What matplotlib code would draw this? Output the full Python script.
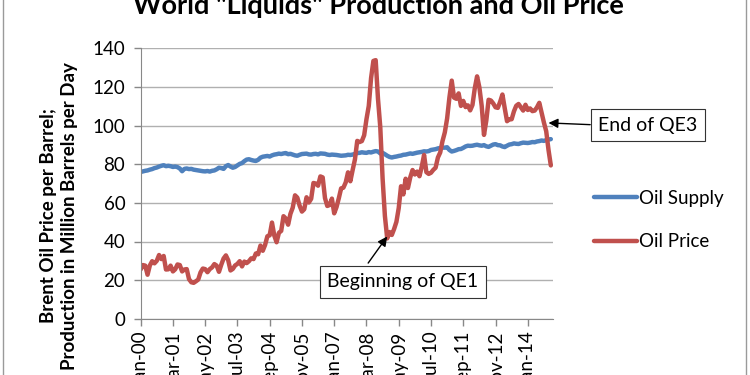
"""
    World liquids production vs Brent oil price, 2000-2014
"""
import matplotlib
matplotlib.use('Agg')
import matplotlib.pyplot as plt
import numpy as np
from matplotlib.patches import Rectangle

plt.rcParams['font.family'] = ['Lato', 'DejaVu Sans']

# monthly values, Jan-00 .. Nov-14
oil_price = [
    25.5, 27.8, 27.5, 22.8, 27.6, 29.8, 28.7, 30.0, 33.0, 30.9, 32.5, 25.5,   # 2000
    25.6, 27.5, 24.5, 25.6, 28.1, 27.8, 24.5, 25.5, 25.7, 20.5, 18.9, 18.6,   # 2001
    19.4, 20.3, 24.0, 26.0, 25.7, 24.1, 25.7, 26.6, 28.3, 27.5, 24.3, 28.0,   # 2002
    31.2, 32.8, 30.3, 25.0, 25.8, 27.6, 28.4, 29.8, 27.1, 29.6, 28.8, 29.8,   # 2003
    31.3, 30.9, 33.8, 33.4, 37.9, 35.2, 38.2, 42.7, 43.2, 49.8, 43.1, 39.6,   # 2004
    44.5, 45.5, 53.1, 51.9, 48.7, 54.3, 57.5, 63.9, 62.7, 58.5, 55.5, 56.7,   # 2005
    62.9, 60.2, 62.1, 70.3, 70.0, 68.9, 73.7, 73.2, 62.5, 58.4, 58.9, 62.2,   # 2006
    54.6, 57.8, 62.4, 67.5, 67.9, 70.6, 75.8, 71.2, 77.0, 82.5, 92.1, 91.5,   # 2007
    92.0, 95.0, 103.3, 110.2, 124.6, 133.5, 133.9, 113.9, 99.1, 72.7, 53.2, 41.6,  # 2008
    44.9, 43.4, 46.5, 50.2, 57.3, 68.6, 64.4, 72.5, 67.7, 73.2, 77.0, 74.7,   # 2009
    76.2, 73.8, 78.8, 84.8, 75.9, 75.0, 75.6, 77.1, 78.2, 83.5, 86.1, 92.0,   # 2010
    96.5, 103.7, 114.6, 123.3, 114.5, 113.9, 116.7, 110.2, 112.8, 109.6, 110.5, 107.9,  # 2011
    110.7, 119.3, 125.5, 119.8, 110.3, 95.2, 102.6, 113.4, 113.0, 111.5, 109.5, 109.2,  # 2012
    112.3, 116.1, 109.0, 102.3, 103.3, 103.3, 107.4, 110.3, 111.2, 109.5, 107.8, 110.8,  # 2013
    108.1, 108.9, 107.5, 107.8, 109.5, 111.8, 106.8, 101.6, 97.1, 87.4, 79.4,             # 2014
]

oil_supply = [
    76.0, 76.3, 76.6, 76.8, 77.2, 77.5, 78.0, 78.3, 78.8, 79.2, 79.5, 79.0,   # 2000
    79.2, 79.0, 78.6, 78.8, 78.5, 77.8, 76.4, 77.6, 77.8, 77.5, 77.6, 77.2,   # 2001
    77.0, 76.8, 76.6, 76.4, 76.3, 76.5, 76.2, 76.6, 76.8, 77.4, 78.2, 78.0,   # 2002
    77.6, 79.0, 79.6, 78.8, 78.2, 78.6, 79.4, 80.2, 80.6, 81.6, 82.4, 82.6,   # 2003
    82.2, 81.9, 81.7, 82.3, 83.4, 83.9, 84.1, 84.3, 84.0, 84.6, 85.0, 85.2,   # 2004
    85.5, 85.3, 85.6, 85.8, 85.2, 85.4, 85.0, 84.6, 84.4, 84.9, 85.3, 85.4,   # 2005
    85.5, 85.1, 85.0, 85.3, 85.4, 85.1, 85.6, 85.5, 85.4, 85.0, 84.8, 85.0,   # 2006
    84.9, 84.8, 84.6, 84.4, 84.5, 84.6, 84.9, 84.8, 85.0, 85.4, 85.8, 85.9,   # 2007
    86.2, 86.0, 85.9, 86.3, 86.1, 86.5, 86.8, 86.6, 85.6, 85.9, 85.2, 84.4,   # 2008
    83.8, 83.5, 83.8, 84.0, 84.3, 84.5, 84.9, 85.0, 85.3, 85.6, 85.4, 85.7,   # 2009
    86.0, 86.2, 86.4, 86.7, 86.6, 86.8, 87.4, 87.6, 87.8, 88.2, 88.4, 88.6,   # 2010
    88.6, 88.8, 87.4, 86.6, 86.9, 87.3, 87.8, 87.9, 88.5, 89.2, 89.6, 89.5,   # 2011
    89.6, 89.9, 90.1, 89.8, 89.6, 89.9, 89.3, 89.0, 89.6, 90.2, 90.4, 89.9,   # 2012
    89.8, 89.2, 88.9, 89.6, 90.2, 90.4, 90.8, 90.6, 90.5, 90.9, 91.2, 91.1,   # 2013
    91.0, 91.2, 91.5, 91.4, 91.8, 92.0, 92.3, 92.1, 92.5, 92.8, 93.0,         # 2014
]

tick_labels = ['Jan-00', 'Mar-01', 'May-02', 'Jul-03', 'Sep-04', 'Nov-05', 'Jan-07',
               'Mar-08', 'May-09', 'Jul-10', 'Sep-11', 'Nov-12', 'Jan-14']
qe1_month, qe3_month = 107, 177


def plot():
    fig = plt.figure(figsize=(7.5, 3.75), dpi=100)
    ax = fig.add_axes([0.1875, 0.15, 0.55, 0.721])

    x = np.arange(len(oil_price))
    ax.plot(x, oil_supply, color='#4f81bd', lw=3.2, label='Oil Supply', solid_capstyle='round')
    ax.plot(x, oil_price, color='#c0504d', lw=3.2, label='Oil Price', solid_capstyle='round')

    ax.set_xlim(0, 179)
    ax.set_ylim(0, 140)
    ax.set_yticks(range(0, 141, 20))
    ax.set_xticks(np.arange(len(tick_labels)) * 14)
    ax.set_xticklabels(tick_labels, rotation=90)
    ax.tick_params(axis='both', labelsize=13.5, color='#888888', length=5, width=1)
    ax.tick_params(axis='y', pad=6)
    ax.grid(axis='y', color='#b0b0b0', lw=1)
    ax.set_axisbelow(True)
    for side in ['top', 'right']:
        ax.spines[side].set_visible(False)
    for side in ['left', 'bottom']:
        ax.spines[side].set_color('#888888')

    fig.text(59 / 750, 1 - 216 / 375,
             'Brent Oil Price per Barrel;\nProduction in Million Barrels per Day',
             rotation=90, ha='center', va='center', multialignment='center',
             fontsize=13.5, fontweight='bold', linespacing=1.3)
    fig.text(0.505, 0.985, 'World "Liquids" Production and Oil Price',
             ha='center', va='center', fontsize=19.5, fontweight='bold')

    ax.legend(loc='center left', bbox_to_anchor=(0.769, 0.413), bbox_transform=fig.transFigure,
              frameon=False, fontsize=13.5, handlelength=2.3, handletextpad=0.1,
              labelspacing=1.4)

    box = dict(boxstyle='square,pad=0.4', fc='white', ec='#333333', lw=0.8)
    ax.annotate('End of QE3', xy=(qe3_month, oil_price[qe3_month] + 14),
                xytext=(648, 250), textcoords='figure pixels', ha='center', va='center',
                fontsize=14, bbox=box,
                arrowprops=dict(arrowstyle='-|>', color='black', lw=1, relpos=(0, 0.5),
                                shrinkA=0, shrinkB=0))
    ax.annotate('Beginning of QE1', xy=(qe1_month, oil_price[qe1_month] + 1),
                xytext=(403, 93), textcoords='figure pixels', ha='center', va='center',
                fontsize=14, bbox=box,
                arrowprops=dict(arrowstyle='-|>', color='black', lw=1, relpos=(0.22, 1.0),
                                shrinkA=2, shrinkB=0))

    fig.patches.append(Rectangle((3 / 750, -0.1), 743 / 750, 1.2, transform=fig.transFigure,
                                 fill=False, ec='#9a9a9a', lw=1))

    fig.savefig('out.png', dpi=100)
    plt.close(fig)


if __name__ == '__main__':
    plot()
